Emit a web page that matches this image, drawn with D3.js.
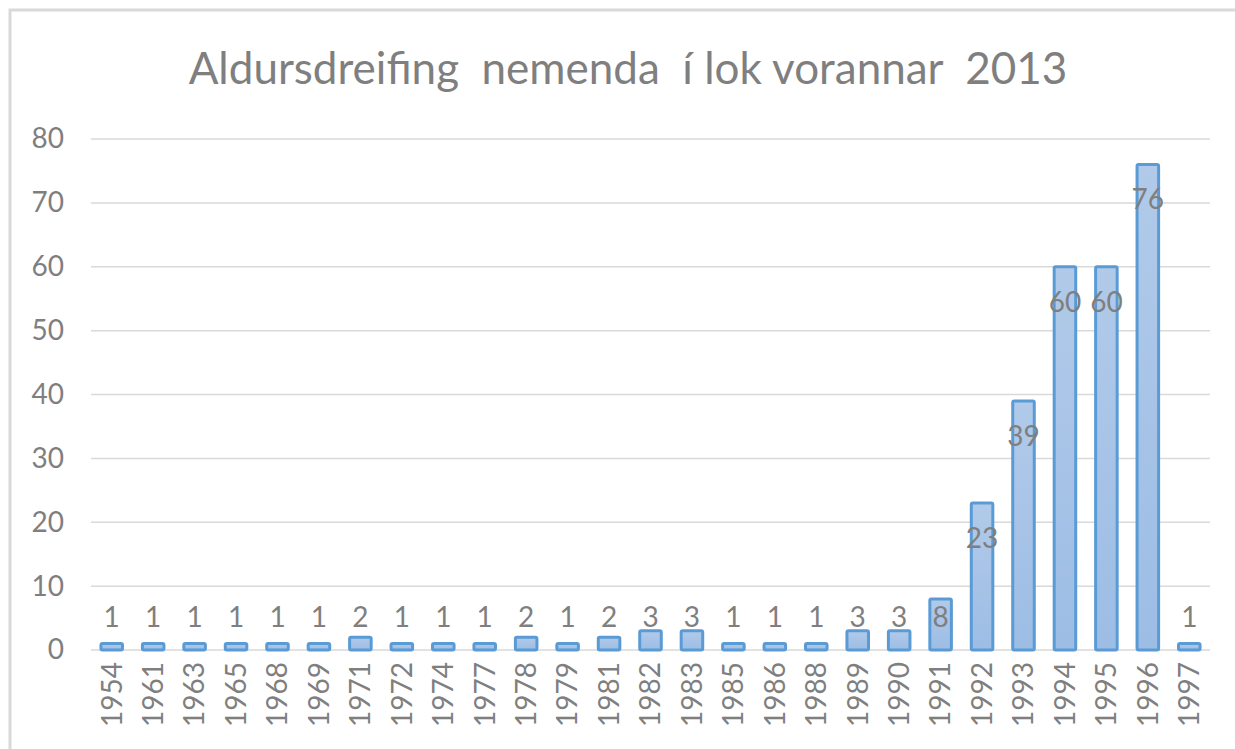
<!DOCTYPE html>
<html>
<head>
<meta charset="utf-8">
<script src="https://cdn.jsdelivr.net/npm/d3@7"></script>
<style>
  body { margin: 0; background: #fff; }
  svg { display: block; font-family: Lato, "Open Sans", sans-serif; }
</style>
</head>
<body>
<svg id="chart" width="1235" height="749"></svg>
<script>
const years = ["1954","1961","1963","1965","1968","1969","1971","1972","1974","1977","1978","1979","1981","1982","1983","1985","1986","1988","1989","1990","1991","1992","1993","1994","1995","1996","1997"];
const counts = [1,1,1,1,1,1,2,1,1,1,2,1,2,3,3,1,1,1,3,3,8,23,39,60,60,76,1];
const yTicks = [0,10,20,30,40,50,60,70,80];
const title = "Aldursdreifing  nemenda  í lok vorannar  2013";

const margin = { top: 139, right: 25, bottom: 99, left: 91 }
const width = 1235, height = 749

const svg = d3.select("#chart")

// frame
svg.append("rect")
  .attr("x", 10).attr("y", 10)
  .attr("width", 1240).attr("height", 760)
  .attr("fill", "none")
  .attr("stroke", "#d9d9d9")
  .attr("stroke-width", 3)

// gradient for bars
const grad = svg.append("defs").append("linearGradient")
  .attr("id", "barFill").attr("x1", 0).attr("x2", 0).attr("y1", 0).attr("y2", 1)
grad.append("stop").attr("offset", "0%").attr("stop-color", "#b1cae9")
grad.append("stop").attr("offset", "100%").attr("stop-color", "#9dbde5")

const x = d3.scaleBand()
  .domain(years)
  .range([margin.left, width - margin.right])
  .paddingInner(0.48)
  .paddingOuter(0.24)

const y = d3.scaleLinear()
  .domain([0, 80])
  .range([height - margin.bottom, margin.top])

// gridlines
svg.append("g")
  .selectAll("line")
  .data(yTicks)
  .join("line")
  .attr("x1", margin.left)
  .attr("x2", width - margin.right)
  .attr("y1", d => y(d))
  .attr("y2", d => y(d))
  .attr("stroke", "#d9d9d9")
  .attr("stroke-width", 1.5)

// y axis labels
const yAxis = svg.append("g")
  .attr("transform", "translate(" + (margin.left - 27) + ",0)")
  .call(d3.axisLeft(y).tickValues(yTicks).tickSize(0).tickPadding(0))
yAxis.select(".domain").remove()
yAxis.selectAll("text")
  .attr("font-size", 28)
  .attr("fill", "#7f7f7f")
  .attr("font-family", "Lato, 'Open Sans', sans-serif")

// x axis labels
const xAxis = svg.append("g")
  .attr("transform", "translate(0," + y(0) + ")")
  .call(d3.axisBottom(x).tickSize(0).tickPadding(0))
xAxis.select(".domain").remove()
xAxis.selectAll("text")
  .attr("transform", "rotate(-90)")
  .attr("x", -12)
  .attr("y", 0)
  .attr("dy", "0.35em")
  .attr("text-anchor", "end")
  .attr("font-size", 28)
  .attr("fill", "#7f7f7f")
  .attr("font-family", "Lato, 'Open Sans', sans-serif")

// bars
svg.append("g")
  .selectAll("rect")
  .data(counts)
  .join("rect")
  .attr("x", (d, i) => x(years[i]))
  .attr("y", d => y(d))
  .attr("width", x.bandwidth())
  .attr("height", d => y(0) - y(d))
  .attr("fill", "url(#barFill)")
  .attr("stroke", "#5b9bd5")
  .attr("stroke-width", 3)
  .attr("rx", 1.5)

// data labels (inside end, kept above the axis for short bars)
svg.append("g")
  .selectAll("text")
  .data(counts)
  .join("text")
  .attr("x", (d, i) => x(years[i]) + x.bandwidth() / 2)
  .attr("y", d => Math.min(y(d) + 35, 617))
  .attr("dy", "0.35em")
  .attr("text-anchor", "middle")
  .attr("font-size", 28)
  .attr("fill", "#7f7f7f")
  .text(d => d)

// title
svg.append("text")
  .attr("x", 628)
  .attr("y", 69)
  .attr("dy", "0.35em")
  .attr("text-anchor", "middle")
  .attr("font-size", 44)
  .attr("fill", "#7f7f7f")
  .style("white-space", "pre")
  .attr("xml:space", "preserve")
  .text(title)
</script>
</body>
</html>
